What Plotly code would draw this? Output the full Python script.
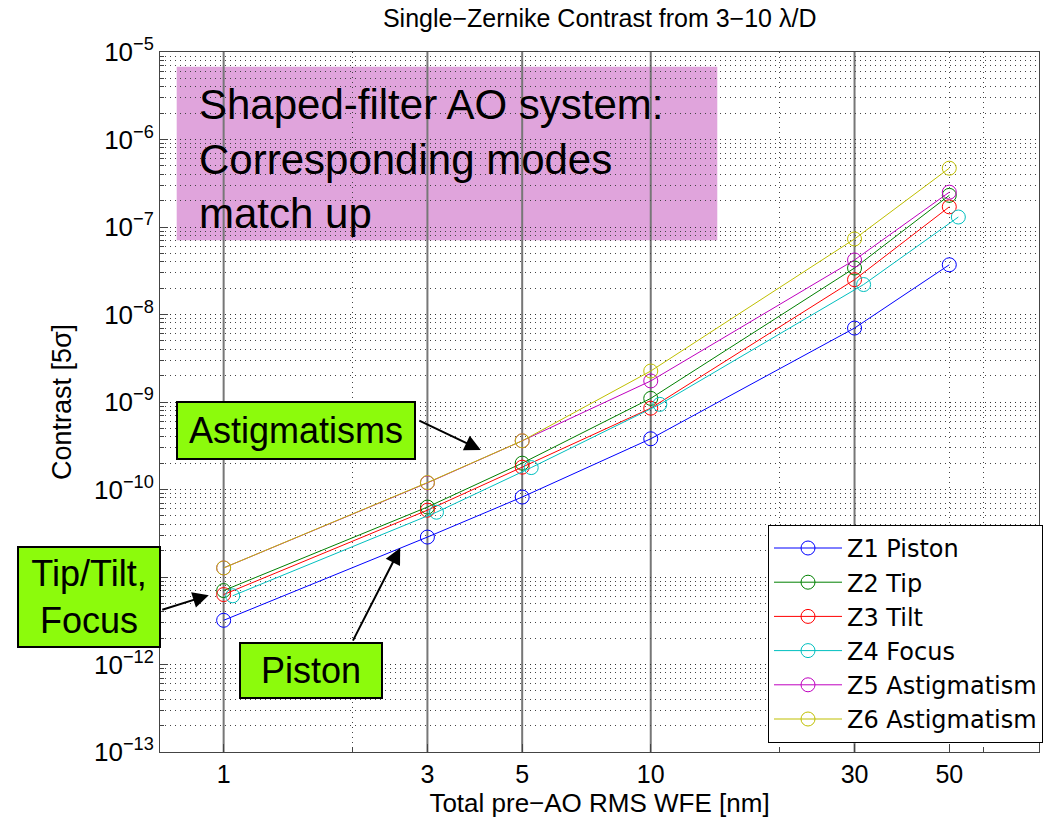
import plotly.graph_objects as go
import math

# ---------------- data ----------------
wfe = [1, 3, 5, 10, 30, 50]
wfe_focus = [1.05, 3.15, 5.25, 10.5, 31.5, 52.5]

z1_piston = [3.2e-12, 2.86e-11, 8.2e-11, 3.8e-10, 7.0e-9, 3.7e-8]
z2_tip = [7.0e-12, 6.3e-11, 2.0e-10, 1.1e-9, 3.4e-8, 2.3e-7]
z3_tilt = [6.3e-12, 5.8e-11, 1.8e-10, 8.5e-10, 2.5e-8, 1.7e-7]
z4_focus = [6.1e-12, 5.5e-11, 1.78e-10, 9.4e-10, 2.2e-8, 1.3e-7]
z5_astig = [1.27e-11, 1.19e-10, 3.6e-10, 1.74e-9, 4.2e-8, 2.5e-7]
z6_astig = [1.27e-11, 1.2e-10, 3.6e-10, 2.26e-9, 7.3e-8, 4.7e-7]

series_names = ["Z1 Piston", "Z2 Tip", "Z3 Tilt", "Z4 Focus", "Z5 Astigmatism", "Z6 Astigmatism"]
series_x = [wfe, wfe, wfe, wfe_focus, wfe, wfe]
series_y = [z1_piston, z2_tip, z3_tilt, z4_focus, z5_astig, z6_astig]
series_colors = ["#0000ff", "#008000", "#ff0000", "#00bfbf", "#bf00bf", "#bfbf00"]

x_tickvals = [1, 3, 5, 10, 30, 50]
x_ticktext = ["1", "3", "5", "10", "30", "50"]
x_solid_lines = [1, 3, 5, 10, 30]
x_dotted_lines = [2, 20, 50, 60]
y_exponents = [-13, -12, -11, -10, -9, -8, -7, -6, -5]

FONT = "Liberation Sans, Arial, Helvetica, sans-serif"
DOTS = "1px,4px"

fig = go.Figure()
for name, xs, ys, col in zip(series_names, series_x, series_y, series_colors):
    fig.add_trace(go.Scatter(
        x=xs, y=ys, name=name, mode="lines+markers",
        line=dict(color=col, width=1),
        marker=dict(symbol="circle-open", size=14, color=col, line=dict(width=1, color=col)),
    ))

y_minor = [k * 10.0 ** e for e in y_exponents[:-1] for k in range(2, 10)]

shapes = [
    dict(type="rect", xref="paper", yref="paper", x0=0.019, x1=0.634, y0=0.731, y1=0.979,
         fillcolor="#e0a4dc", line=dict(width=0), layer="below"),
]
for v in x_solid_lines:
    shapes.append(dict(type="line", xref="x", yref="paper", x0=v, x1=v, y0=0, y1=1,
                       line=dict(color="#777777", width=2), layer="below"))

box_style = dict(bgcolor="#8cfb0c", bordercolor="black", borderwidth=2, borderpad=2,
                 showarrow=False, xref="paper", yref="paper", xanchor="center", yanchor="middle",
                 font=dict(size=36, color="black", family=FONT))

annotations = [
    dict(text="Shaped-filter AO system:<br>Corresponding modes<br>match up", xref="paper", yref="paper",
         x=0.042, y=0.847, xanchor="left", yanchor="middle", align="left", showarrow=False,
         font=dict(size=42, color="black", family=FONT)),
    dict(text="Astigmatisms", x=0.155, y=0.459, width=232, height=51, **box_style),
    dict(text="Tip/Tilt,<br>Focus", x=-0.0804, y=0.2214, width=136, height=94, **box_style),
    dict(text="Piston", x=0.1721, y=0.1164, width=136, height=49, **box_style),
]

# arrows (head positions in data units, log10 for annotations on log axes)
arrow_heads = [(4.0, 2.83e-10, -63, -30), (0.923, 6.2e-12, -48, 15), (2.59, 2.14e-11, -48, 94)]
for hx, hy, ax, ay in arrow_heads:
    annotations.append(dict(x=math.log10(hx), y=math.log10(hy), xref="x", yref="y", text="",
                            showarrow=True, arrowhead=2, arrowsize=1.6, arrowwidth=2,
                            arrowcolor="black", ax=ax, ay=ay, standoff=0, startstandoff=0))

fig.update_layout(
    width=1043, height=819,
    margin=dict(l=160, r=0, t=52, b=67),
    paper_bgcolor="white", plot_bgcolor="white",
    font=dict(family=FONT, size=24, color="black"),
    title=dict(text="Single\u2212Zernike Contrast from 3\u221210 \u03bb/D", x=0.575, xanchor="center",
               y=0.978, yanchor="middle", font=dict(size=25, family=FONT)),
    showlegend=True,
    legend=dict(x=0.692, y=0.013, xanchor="left", yanchor="bottom", bgcolor="white",
                bordercolor="black", borderwidth=1,
                font=dict(size=24, family="DejaVu Sans, Liberation Sans, sans-serif"),
                itemwidth=68, tracegroupgap=0),
    shapes=shapes, annotations=annotations,
)

fig.update_xaxes(
    type="log", range=[-0.149, 1.909],
    tickmode="array", tickvals=x_tickvals, ticktext=x_ticktext,
    ticks="inside", ticklen=8, tickcolor="#444", showgrid=False,
    showline=True, linecolor="#444", linewidth=1, mirror=True, zeroline=False,
    tickfont=dict(size=25), ticklabelstandoff=0,
    minor=dict(tickmode="array", tickvals=x_dotted_lines, showgrid=True, gridcolor="#444",
               griddash=DOTS, gridwidth=1, ticks="inside", ticklen=4, tickcolor="#444"),
    title=dict(text="Total pre\u2212AO RMS WFE [nm]", font=dict(size=26), standoff=3),
)
fig.update_yaxes(
    type="log", range=[-13, -5],
    tickmode="array", tickvals=[10.0 ** e for e in y_exponents],
    ticktext=["10<sup>\u2212%d</sup>" % (-e) for e in y_exponents],
    ticks="inside", ticklen=8, tickcolor="#444",
    showgrid=True, gridcolor="#333", griddash=DOTS, gridwidth=1,
    showline=True, linecolor="#444", linewidth=1, mirror=True, zeroline=False,
    tickfont=dict(size=26),
    minor=dict(tickmode="array", tickvals=y_minor, showgrid=True, gridcolor="#444",
               griddash=DOTS, gridwidth=1, ticks="inside", ticklen=4, tickcolor="#444"),
    title=dict(text="Contrast [5\u03c3]", font=dict(size=27), standoff=14),
)

fig.write_html("out.html", config={"displayModeBar": False},
               post_script="document.body.style.margin='0px';")
